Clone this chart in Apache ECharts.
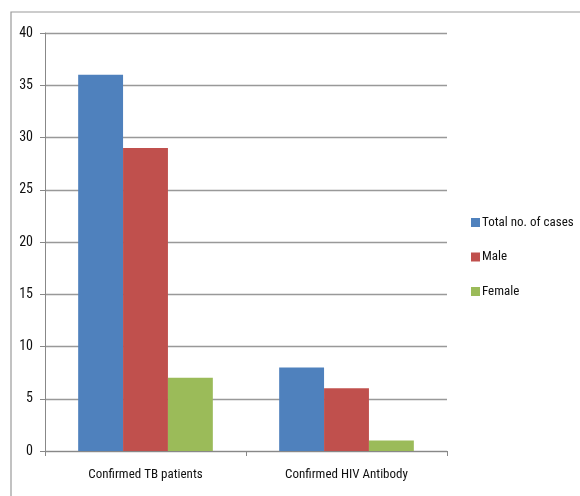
<!DOCTYPE html>
<html><head><meta charset="utf-8">
<script src="https://cdn.jsdelivr.net/npm/echarts@6/dist/echarts.min.js"></script>
<style>html,body{margin:0;padding:0;background:#fff}#c{width:580px;height:496px}</style>
</head><body><div id="c"></div>
<script>
const categories = ['Confirmed TB patients', 'Confirmed HIV Antibody'];
const seriesNames = ['Total no. of cases', 'Male', 'Female'];
const totalCases = [36, 8];
const maleCases = [29, 6];
const femaleCases = [7, 1];
const yTicks = [0, 5, 10, 15, 20, 25, 30, 35, 40];
const colors = ['#4F81BD', '#C0504D', '#9BBB59'];
const FONT = '"Roboto Condensed", "Liberation Sans Narrow", sans-serif';

const chart = echarts.init(document.getElementById('c'), null, {renderer: 'canvas'});
const values = [totalCases, maleCases, femaleCases];
chart.setOption({
  animation: false,
  backgroundColor: '#fff',
  graphic: [{
    type: 'polyline',
    shape: {points: [[11, 600], [11, 12], [700, 12]]},
    style: {stroke: '#9a9a9a', lineWidth: 1.2, fill: null}
  }],
  legend: {
    orient: 'vertical',
    left: 466, top: 211,
    itemWidth: 9, itemHeight: 9,
    itemGap: 21.5,
    icon: 'rect',
    textStyle: {fontFamily: FONT, fontSize: 13, color: '#111', padding: [0, 0, 0, -3]},
    data: seriesNames
  },
  grid: {left: 45, right: 133, top: 33, bottom: 45, containLabel: false},
  xAxis: {
    type: 'category',
    data: categories,
    axisLine: {lineStyle: {color: '#888', width: 1}},
    axisTick: {show: true, length: 5, lineStyle: {color: '#888'}},
    axisLabel: {fontFamily: FONT, fontSize: 13, color: '#111', margin: 17}
  },
  yAxis: {
    type: 'value',
    min: yTicks[0], max: yTicks[yTicks.length - 1], interval: 5,
    axisLine: {show: true, lineStyle: {color: '#888', width: 1}},
    axisTick: {show: true, length: 5, lineStyle: {color: '#888'}},
    axisLabel: {fontFamily: FONT, fontSize: 14, color: '#111', margin: 12},
    splitLine: {lineStyle: {color: '#999', width: 1.3}}
  },
  series: seriesNames.map((n, i) => ({
    name: n,
    type: 'bar',
    data: values[i],
    barGap: '0%',
    barCategoryGap: '33%',
    itemStyle: {color: colors[i]}
  }))
});
</script></body></html>
